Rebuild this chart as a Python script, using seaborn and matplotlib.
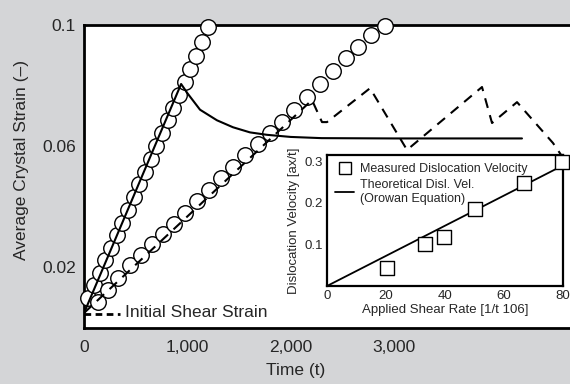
import numpy as np
import pandas as pd
import matplotlib
matplotlib.use('Agg')
import matplotlib.pyplot as plt
import seaborn as sns
from matplotlib.lines import Line2D

# fast run: circles on the steep line
fastTime=[39,95,150,205,260,315,370,425,480,535,590,645,700,755,810,865,920,975,1030,1085,1142,1200]
fastStrain=[0.0098,0.0140,0.0181,0.0222,0.0263,0.0305,0.0347,0.0389,0.0431,0.0473,0.0515,0.0558,
            0.0600,0.0643,0.0685,0.0727,0.0769,0.0811,0.0855,0.0898,0.0945,0.0995]

# slow run: circles on the shallow line
slowTime=[136,232,329,445,551,658,765,867,978,1094,1210,1326,1442,1563,1684,1801,1917,2033,
          2159,2285,2410,2536,2652,2778,2914]
slowStrain=[0.0084,0.0124,0.0164,0.0205,0.0241,0.0276,0.0310,0.0342,0.0379,0.0417,0.0456,0.0494,
            0.0531,0.0570,0.0607,0.0643,0.0679,0.0718,0.0762,0.0806,0.0849,0.0890,0.0927,0.0967,0.0998]

# solid curve: loading then relaxation
solidTime=[0,940,1000,1123,1287,1442,1607,1771,2000,2300,3000,4240]
solidStrain=[0.0048,0.0805,0.0775,0.0720,0.0685,0.0662,0.0645,0.0637,0.0630,0.0626,0.0625,0.0625]

# dashed curve
dashTime=[0,2207,2304,2352,2769,3127,3853,3950,4192,4540,4620]
dashStrain=[0.0048,0.0752,0.0679,0.0679,0.0791,0.0587,0.0795,0.0676,0.0745,0.0610,0.0570]

# initial shear strain marker
initTime=[0,350]
initStrain=[0.0046,0.0046]

# inset data
rateMeasured=[20.3,33.2,39.7,50.2,66.8,79.7]
velMeasured=[0.043,0.100,0.118,0.185,0.247,0.298]
rateTheory=[0,80]
velTheory=[0,0.29]

sns.set_style('white')
plt.rcParams['font.family']=['Liberation Sans','DejaVu Sans']

fig=plt.figure(figsize=(5.7,3.84),dpi=100,facecolor='#d4d5d7')
ax=fig.add_axes([0.1474,0.1471,0.8526,0.7878],facecolor='white')

sns.scatterplot(x=fastTime,y=fastStrain,ax=ax,marker='o',s=125,facecolor='white',edgecolor='black',linewidth=1.0,zorder=3)
sns.scatterplot(x=slowTime,y=slowStrain,ax=ax,marker='o',s=125,facecolor='white',edgecolor='black',linewidth=1.0,zorder=3)
for c in ax.collections:
    c.set_clip_on(False)
sns.lineplot(x=solidTime,y=solidStrain,ax=ax,color='black',lw=1.5,zorder=4,sort=False,estimator=None)
sns.lineplot(x=dashTime,y=dashStrain,ax=ax,color='black',lw=1.5,zorder=4,sort=False,estimator=None)
ax.lines[-1].set_dashes((4.8,3.6))
sns.lineplot(x=initTime,y=initStrain,ax=ax,color='black',lw=2,zorder=4,estimator=None)
ax.lines[-1].set_dashes((2.4,1.6))
ax.text(400,0.0048,'Initial Shear Strain',fontsize=12.5,va='center',ha='left')

ax.set_xlim(0,4705)
ax.set_ylim(0,0.1)
ax.set_xticks([0,1000,2000,3000])
ax.set_xticklabels(['0','1,000','2,000','3,000'])
ax.set_yticks([0.02,0.04,0.06,0.08,0.1])
ax.set_yticklabels(['0.02','','0.06','','0.1'])
ax.tick_params(direction='in',length=10,width=1.0,labelsize=12.5,color='black')
ax.tick_params(axis='x',pad=9)
ax.tick_params(axis='y',pad=6)
for side in ['left','top','bottom']:
    ax.spines[side].set_linewidth(2)
    ax.spines[side].set_color('black')
ax.spines['right'].set_visible(False)

fig.text(0.037,0.583,'Average Crystal Strain (–)',rotation=90,fontsize=12.5,ha='center',va='center')
fig.text(0.519,0.036,'Time (t)',fontsize=12.5,ha='center',va='center')

# inset
ins=fig.add_axes([0.5737,0.2552,0.414,0.3411],facecolor='white',zorder=5)
sns.lineplot(x=rateTheory,y=velTheory,ax=ins,color='black',lw=1.3,estimator=None)
sns.scatterplot(x=rateMeasured,y=velMeasured,ax=ins,marker='s',s=110,facecolor='white',edgecolor='black',linewidth=1.0,zorder=3)
ins.collections[-1].set_clip_on(False)
ins.set_xlim(0,80)
ins.set_ylim(0,0.315)
ins.set_xticks([0,20,40,60,80])
ins.set_yticks([0.05,0.1,0.15,0.2,0.25,0.3])
ins.set_yticklabels(['','0.1','','0.2','','0.3'])
ins.tick_params(direction='in',length=6,width=1.0,labelsize=9.5,pad=3)
for side in ins.spines:
    ins.spines[side].set_linewidth(1.6)
    ins.spines[side].set_color('black')
ins.set_xlabel('Applied Shear Rate [1/t 106]',fontsize=9.5,labelpad=1)
ins.set_ylabel('Dislocation Velocity [ax/t]',fontsize=9.5,labelpad=3)
handles=[Line2D([],[],marker='s',ls='none',mfc='white',mec='black',ms=9,mew=1.0),
         Line2D([],[],color='black',lw=1.3)]
ins.legend(handles,['Measured Dislocation Velocity','Theoretical Disl. Vel.\n(Orowan Equation)'],
           loc='upper left',frameon=False,fontsize=9,handlelength=1.5,handletextpad=0.5,
           labelspacing=0.3,borderaxespad=0.45,borderpad=0.2)

fig.savefig('out.png',dpi=100,facecolor=fig.get_facecolor())
